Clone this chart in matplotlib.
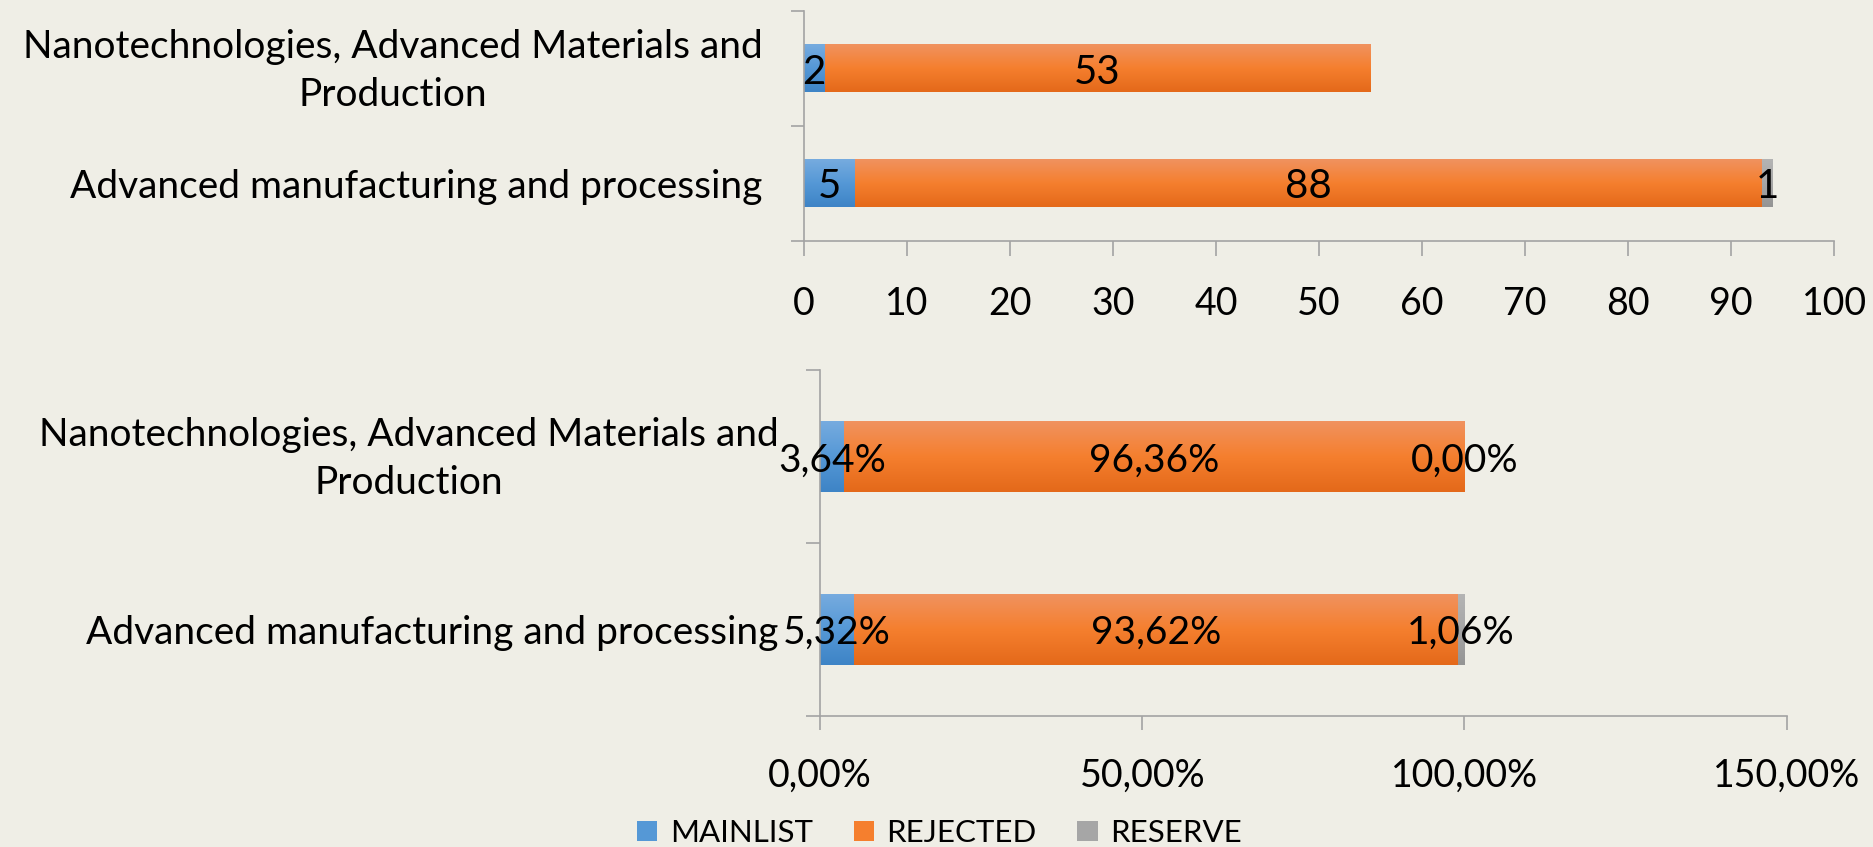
import numpy as np
import matplotlib
matplotlib.use("Agg")
import matplotlib.pyplot as plt
from matplotlib.colors import LinearSegmentedColormap
from matplotlib.patches import Patch
from matplotlib.transforms import ScaledTranslation

plt.rcParams['font.family'] = ['Lato', 'DejaVu Sans']

# --- data (bottom category first, as drawn from y=0 upward) ---
categories = ['Advanced manufacturing and processing',
              'Nanotechnologies, Advanced Materials and\nProduction']
series = ['MAINLIST', 'REJECTED', 'RESERVE']
count_mainlist = [5, 2]
count_rejected = [88, 53]
count_reserve = [1, 0]
pct_mainlist = [5.32, 3.64]
pct_rejected = [93.62, 96.36]
pct_reserve = [1.06, 0.00]
count_ticks = [0, 10, 20, 30, 40, 50, 60, 70, 80, 90, 100]
pct_ticks = [0, 50, 100, 150]

BG = '#EFEEE6'
GRAY = '#A3A3A3'
grad_colors = {
    'MAINLIST': ['#76ABDF', '#5598D6', '#3E84C6'],
    'REJECTED': ['#F0925F', '#F57F2E', '#E4691A'],
    'RESERVE': ['#B4B4B4', '#A6A6A6', '#949494'],
}


def shade(ax, bars, colors):
    # vertical gradient fill like the office chart
    cmap = LinearSegmentedColormap.from_list('g', colors)
    grad = np.linspace(0, 1, 64).reshape(-1, 1)
    for r in bars:
        x0, y0, w, h = r.get_x(), r.get_y(), r.get_width(), r.get_height()
        if w <= 0:
            continue
        ax.imshow(grad, cmap=cmap, extent=(x0, x0 + w, y0, y0 + h),
                  aspect='auto', zorder=2, interpolation='bilinear')


def stacked(ax, vals, bar_h, fmt, lab_size, skip_zero):
    y = np.arange(len(categories))
    left = np.zeros(len(categories))
    for name, v in zip(series, vals):
        v = np.array(v, dtype=float)
        bars = ax.barh(y, v, left=left, height=bar_h, color=grad_colors[name][1], zorder=1)
        shade(ax, bars, grad_colors[name])
        for yi, l, w in zip(y, left, v):
            if skip_zero and w == 0:
                continue
            ax.text(l + w / 2, yi, fmt(w), ha='center', va='center_baseline',
                    fontsize=lab_size, color='black', zorder=3)
        left = left + v


def style(ax, xticks, xfmt, ylen, xlen, xpad, ypad):
    ax.set_facecolor(BG)
    for s in ['top', 'right']:
        ax.spines[s].set_visible(False)
    for s in ['left', 'bottom']:
        ax.spines[s].set_color(GRAY)
        ax.spines[s].set_linewidth(1.2)
    ax.set_ylim(-0.5, len(categories) - 0.5)
    ax.set_yticks(range(len(categories)))
    ax.set_yticklabels(categories)
    ax.set_yticks(np.arange(-0.5, len(categories), 1.0), minor=True)
    ax.tick_params(axis='y', which='major', length=0, pad=ypad, labelsize=28)
    ax.tick_params(axis='y', which='minor', length=ylen, width=1.2, color=GRAY)
    for t in ax.get_yticklabels():
        t.set_multialignment('center')
        t.set_linespacing(1.4)
        if '\n' in t.get_text():
            # two-line labels sit a bit higher in the original
            t.set_transform(t.get_transform() + ScaledTranslation(0, 0.07, fig.dpi_scale_trans))
    ax.set_xlim(xticks[0], xticks[-1])
    ax.set_xticks(xticks)
    ax.set_xticklabels([xfmt(v) for v in xticks])
    ax.tick_params(axis='x', length=xlen, width=1.2, color=GRAY, pad=xpad, labelsize=27)


fig = plt.figure(figsize=(18.74, 8.47), dpi=100, facecolor=BG)

ax1 = fig.add_axes([0.4290, 0.7155, 0.5497, 0.2715])
stacked(ax1, [count_mainlist, count_rejected, count_reserve], 0.415,
        lambda v: f"{v:.0f}", 29, True)
style(ax1, count_ticks, lambda v: f"{v}", 9.5, 10.5, 22, 30)

ax2 = fig.add_axes([0.4376, 0.1547, 0.5158, 0.4079])
stacked(ax2, [pct_mainlist, pct_rejected, pct_reserve], 0.41,
        lambda v: f"{v:.2f}%".replace('.', ','), 28, False)
style(ax2, pct_ticks, lambda v: f"{v:.2f}%".replace('.', ','), 10, 10, 20, 30)

handles = [Patch(facecolor=grad_colors[n][1], label=n) for n in series]
fig.legend(handles=handles, loc='center', bbox_to_anchor=(0.5013, 0.0165), ncol=3,
           frameon=False, fontsize=22.5, handlelength=0.65, handleheight=0.65,
           handletextpad=0.4, columnspacing=1.3)

fig.savefig("out.png", dpi=100, facecolor=BG)
